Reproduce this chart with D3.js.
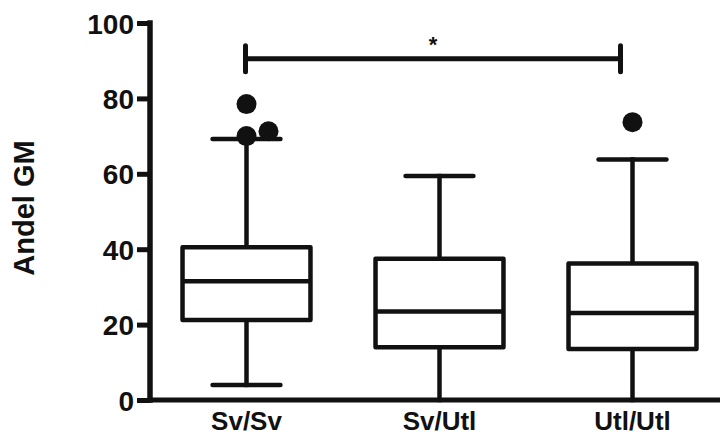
<!DOCTYPE html>
<html>
<head>
<meta charset="utf-8">
<script src="https://cdn.jsdelivr.net/npm/d3@7"></script>
<style>
  html, body { margin: 0; padding: 0; background: #fff; }
  svg { display: block; }
  text { font-family: "Liberation Sans", Arial, Helvetica, sans-serif; font-weight: bold; fill: #111; }
</style>
</head>
<body>
<svg id="chart" width="720" height="437"></svg>
<script>
// Groups and box-plot statistics (Andel GM, %)
const groups    = ["Sv/Sv", "Sv/Utl", "Utl/Utl"];
const whiskerLo = [4.0, 0, 0];
const q1        = [21.2, 14.0, 13.5];
const medians   = [31.5, 23.5, 23.1];
const q3        = [40.5, 37.5, 36.2];
const whiskerHi = [69.2, 59.4, 63.8];
const outliers  = [[78.5, 70.0, 71.3], [], [73.7]];

// Significance annotation
const sigFrom  = "Sv/Sv";
const sigTo    = "Utl/Utl";
const sigLevel = 90.5;
const sigLabel = "*";

const yTicks  = [0, 20, 40, 60, 80, 100];
const yTitle  = "Andel GM";

const svg = d3.select("#chart");
const ink = "#111";

const x = d3.scaleBand().domain(groups).range([150, 729]).padding(0);
const y = d3.scaleLinear().domain([0, 100]).range([400, 23]);

const boxW = x.bandwidth() * 0.663;
const capW = x.bandwidth() * 0.352;
const lw = 4.5;
const dotR = 10;

const data = groups.map((g, i) => ({
  g, lo: whiskerLo[i], q1: q1[i], med: medians[i], q3: q3[i], hi: whiskerHi[i], out: outliers[i]
}));

const cx = g => x(g) + x.bandwidth() / 2;

const plot = svg.append("g");

data.forEach(d => {
  const c = cx(d.g);
  const grp = plot.append("g")
    .attr("stroke", ink).attr("stroke-width", lw)
    .attr("fill", "none").attr("stroke-linejoin", "round");
  // whiskers
  grp.append("line").attr("x1", c).attr("x2", c).attr("y1", y(d.q3)).attr("y2", y(d.hi)).attr("stroke-linecap", "square");
  grp.append("line").attr("x1", c).attr("x2", c).attr("y1", y(d.q1)).attr("y2", y(d.lo)).attr("stroke-linecap", "square");
  grp.append("line").attr("x1", c - capW / 2).attr("x2", c + capW / 2).attr("y1", y(d.hi)).attr("y2", y(d.hi)).attr("stroke-linecap", "round");
  if (d.lo > 0) {
    grp.append("line").attr("x1", c - capW / 2).attr("x2", c + capW / 2).attr("y1", y(d.lo)).attr("y2", y(d.lo)).attr("stroke-linecap", "round");
  }
  // box
  grp.append("rect").attr("x", c - boxW / 2).attr("y", y(d.q3))
    .attr("width", boxW).attr("height", y(d.q1) - y(d.q3)).attr("fill", "#fff");
  grp.append("line").attr("x1", c - boxW / 2).attr("x2", c + boxW / 2).attr("y1", y(d.med)).attr("y2", y(d.med));

  // outliers, dodged sideways when they would overlap
  const placed = [];
  d.out.forEach(v => {
    const py = y(v);
    let ox = 0;
    while (placed.some(p => Math.abs(p.x - ox) < dotR * 2 && Math.abs(p.y - py) < dotR * 2)) ox += dotR * 2.2;
    placed.push({ x: ox, y: py });
    plot.append("circle").attr("cx", c + ox).attr("cy", py).attr("r", dotR).attr("fill", ink);
  });
});

// axes
const yAxis = d3.axisLeft(y).tickValues(yTicks).tickSize(13).tickPadding(3).tickFormat(d3.format("d"));
const yg = svg.append("g").attr("transform", "translate(150,0)").call(yAxis);
yg.select(".domain").attr("d", `M0,${y(100)}V${y(0)}`).attr("stroke", ink).attr("stroke-width", 5.5).attr("stroke-linecap", "square");
yg.selectAll(".tick line").attr("stroke", ink).attr("stroke-width", 5);
yg.selectAll(".tick text").attr("font-size", 28).attr("font-family", "Liberation Sans, Arial, sans-serif").attr("font-weight", "bold").attr("fill", ink).attr("dy", "0.36em");

const xAxis = d3.axisBottom(x).tickSize(0).tickPadding(10);
const xg = svg.append("g").attr("transform", `translate(0,${y(0)})`).call(xAxis);
xg.select(".domain").attr("d", `M150,0H720`).attr("stroke", ink).attr("stroke-width", 5);
xg.selectAll(".tick text").attr("font-size", 26).attr("font-family", "Liberation Sans, Arial, sans-serif").attr("font-weight", "bold").attr("fill", ink).attr("dy", "0.75em");

// y title
svg.append("text")
  .attr("transform", "translate(34,208) rotate(-90)")
  .attr("text-anchor", "middle")
  .attr("font-size", 29)
  .text(yTitle);

// significance bracket
const sx1 = cx(sigFrom) - 1;
const sx2 = cx(sigTo) - 12;
const sy = y(sigLevel);
const sig = svg.append("g").attr("stroke", ink).attr("stroke-linecap", "round");
sig.append("line").attr("x1", sx1).attr("x2", sx2).attr("y1", sy).attr("y2", sy).attr("stroke-width", 5);
[sx1, sx2].forEach(sx => sig.append("line").attr("x1", sx).attr("x2", sx).attr("y1", sy - 13).attr("y2", sy + 13).attr("stroke-width", 5));
svg.append("text")
  .attr("x", (sx1 + sx2) / 2).attr("y", sy - 7)
  .attr("text-anchor", "middle")
  .attr("font-size", 22)
  .text(sigLabel);
</script>
</body>
</html>
